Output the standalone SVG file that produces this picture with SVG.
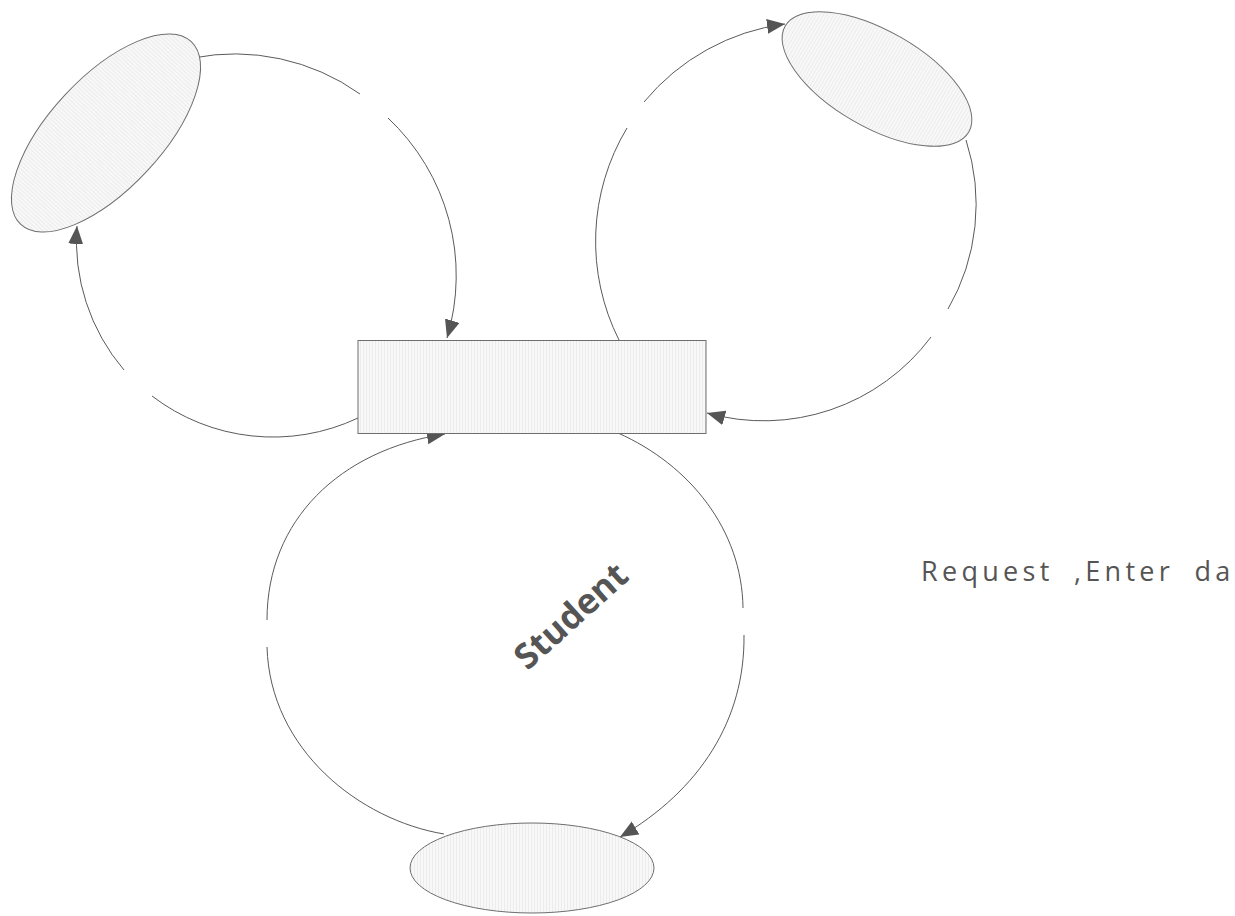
<svg xmlns="http://www.w3.org/2000/svg" width="1235" height="916" viewBox="0 0 1235 916">
  <style>
    .shape { stroke: #6e6e6e; stroke-width: 1; fill: url(#stripes); }
    .flow { fill: none; stroke: #5a5a5a; stroke-width: 1; }
    .arrow { marker-end: url(#head); }
    .label { fill: #555555; font-family: "Open Sans", "Noto Sans", sans-serif; }
  </style>
  <defs>
    <!-- fine vertical hatching used as the light grey fill -->
    <pattern id="stripes" width="3" height="10" patternUnits="userSpaceOnUse">
      <rect width="3" height="10" fill="#f8f8f8"/>
      <rect x="0" width="1" height="10" fill="#ececec"/>
    </pattern>
    <marker id="head" markerUnits="userSpaceOnUse" markerWidth="20" markerHeight="16" refX="18" refY="7.5" orient="auto">
      <path d="M0,0 L18,7.5 L0,15 z" fill="#555555"/>
    </marker>
  </defs>

  <rect width="1235" height="916" fill="#ffffff"/>

  <!-- connectors -->
  <g id="connectors">
    <!-- top-left ellipse to rectangle -->
    <path class="flow" d="M193,58 A216,216 0 0,1 360,94"/>
    <path class="flow arrow" d="M388,118 A216,216 0 0,1 447,338"/>
    <!-- rectangle to top-left ellipse -->
    <path class="flow" d="M358,418 A199,199 0 0,1 152,396"/>
    <path class="flow arrow" d="M124,370 A199,199 0 0,1 77,226"/>
    <!-- rectangle to top-right ellipse -->
    <path class="flow" d="M619,340 A220,220 0 0,1 627,128"/>
    <path class="flow arrow" d="M644,102 A220,220 0 0,1 785,24"/>
    <!-- top-right ellipse to rectangle -->
    <path class="flow" d="M966,140 A209,209 0 0,1 948,309"/>
    <path class="flow arrow" d="M931,337 A209,209 0 0,1 707,413"/>
    <!-- rectangle to bottom ellipse -->
    <path class="flow" d="M618,433 C690,465 742,530 743,608"/>
    <path class="flow arrow" d="M744,635 C745,720 700,790 620,837"/>
    <!-- bottom ellipse to rectangle -->
    <path class="flow" d="M444,834 C360,820 270,750 267,647"/>
    <path class="flow arrow" d="M267,620 C267,520 340,450 445,434"/>
  </g>

  <g id="node-top-left">
    <ellipse class="shape" cx="106" cy="133" rx="125" ry="56" transform="rotate(-47 106 133)"/>
  </g>

  <g id="node-top-right">
    <ellipse class="shape" cx="877" cy="79" rx="106" ry="48" transform="rotate(30 877 79)"/>
  </g>

  <g id="node-center">
    <rect class="shape" x="358" y="340.5" width="348" height="93" stroke="#808080"/>
  </g>

  <g id="node-bottom">
    <ellipse class="shape" cx="532" cy="868" rx="122" ry="45"/>
  </g>

  <g id="label-student">
    <text class="label" x="571" y="628" font-size="35" font-weight="bold" text-anchor="middle" transform="rotate(-42 571 616)">Student</text>
  </g>

  <g id="label-request">
    <text class="label" x="921" y="581" font-size="27" letter-spacing="4.3" word-spacing="9">Request ,Enter da</text>
  </g>
</svg>
